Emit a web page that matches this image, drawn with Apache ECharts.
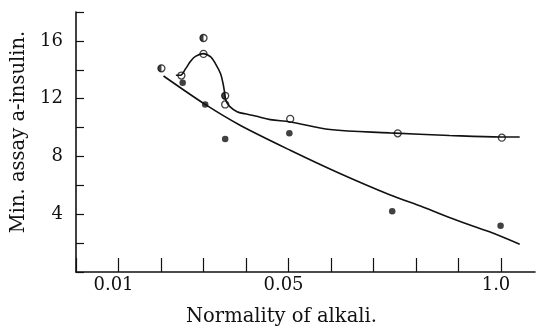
<!DOCTYPE html>
<html>
<head>
<meta charset="utf-8">
<script src="https://cdn.jsdelivr.net/npm/echarts@6/dist/echarts.min.js"></script>
<style>
    html, body { margin: 0; padding: 0; background: #fff; }
    #chart { width: 539px; height: 328px; }
</style>
</head>
<body>
<div id="chart"></div>
<script>
// x is in tick steps of the printed axis (tick 0 = 0.01, tick 4 = 0.05, tick 9 = 1.0)
var tickPos = [0, 4, 9];
var tickLabels = ['0.01', '0.05', '1.0'];
var yLabelValues = [4, 8, 12, 16];

// measured points
var openPts = [[1.48, 13.6], [2.0, 15.1], [2.51, 11.6], [4.04, 10.6], [6.57, 9.6], [9.02, 9.3]];
var filledPts = [[1.51, 13.1], [2.04, 11.6], [2.51, 9.2], [4.02, 9.6], [6.44, 4.2], [8.99, 3.2]];
var halfPts = [[1.01, 14.1], [2.0, 16.2], [2.51, 12.2]];

// fitted curves
var upperCurve = [[1.35, 13.62], [1.46, 13.62], [1.58, 14.08], [1.70, 14.61], [1.81, 14.93], [1.99, 15.12],
    [2.17, 14.89], [2.28, 14.43], [2.40, 13.74], [2.46, 13.05], [2.50, 12.35], [2.53, 11.85],
    [2.62, 11.45], [2.79, 11.1], [2.98, 10.95], [3.22, 10.8], [3.57, 10.55], [4.04, 10.39], [4.98, 9.86],
    [6.38, 9.63], [7.79, 9.45], [9.01, 9.35], [9.44, 9.35]];
var lowerCurve = [[1.06, 13.57], [2.04, 11.6], [2.86, 10.16], [4.04, 8.43], [5.21, 6.82], [6.38, 5.35],
    [7.16, 4.5], [7.96, 3.58], [8.73, 2.78], [9.44, 1.92]];

var chart = echarts.init(document.getElementById('chart'));
var ink = '#111';
var font = '"DejaVu Serif", "Liberation Serif", serif';
var ticks = [];
for (var i = -1; i <= 9; i++) ticks.push(i);

var option = {
    animation: false,
    grid: { left: 76, right: 4, top: 12, bottom: 56, outerBoundsMode: 'none' },
    xAxis: {
        type: 'value',
        min: -1,
        max: 9.8,
        name: 'Normality of alkali.',
        nameLocation: 'middle',
        nameGap: 35,
        nameTextStyle: { color: ink, fontFamily: font, fontSize: 19.5, padding: [0, 48, 0, 0] },
        axisLine: { onZero: false, lineStyle: { color: ink, width: 1.6 } },
        axisTick: { inside: true, length: 14, customValues: ticks, lineStyle: { color: ink, width: 1.2 } },
        axisLabel: {
            customValues: tickPos,
            color: ink, fontFamily: font, fontSize: 18, margin: 4,
            padding: [0, 10, 0, 0],
            formatter: function(v) {
                var k = tickPos.indexOf(v);
                return k >= 0 ? tickLabels[k] : '';
            }
        },
        splitLine: { show: false }
    },
    yAxis: {
        type: 'value',
        min: 0,
        max: 18,
        interval: 2,
        name: 'Min. assay a-insulin.',
        nameLocation: 'middle',
        nameGap: 44,
        nameTextStyle: { color: ink, fontFamily: font, fontSize: 19.5, padding: [0, 0, 0, 20] },
        axisLine: { onZero: false, lineStyle: { color: ink, width: 1.6 } },
        axisTick: { inside: true, length: 8, lineStyle: { color: ink, width: 1.2 } },
        axisLabel: {
            customValues: yLabelValues,
            color: ink, fontFamily: font, fontSize: 18, margin: 13
        },
        splitLine: { show: false }
    },
    series: [{
        type: 'line',
        data: upperCurve,
        smooth: 0.35,
        symbol: 'none',
        lineStyle: { color: ink, width: 1.6 }
    }, {
        type: 'line',
        data: lowerCurve,
        smooth: 0.3,
        symbol: 'none',
        lineStyle: { color: ink, width: 1.6 }
    }, {
        type: 'scatter',
        data: filledPts,
        symbol: 'circle',
        symbolSize: 6.5,
        itemStyle: { color: ink }
    }, {
        type: 'scatter',
        data: openPts.concat(halfPts),
        symbol: 'circle',
        symbolSize: 7,
        itemStyle: { color: '#fff', borderColor: ink, borderWidth: 1.3 }
    }, {
        // left half filled
        type: 'scatter',
        data: halfPts,
        symbol: 'path://M0,-1 A1,1 0 0,0 0,1 Z',
        symbolSize: [3.5, 7],
        symbolOffset: [-1.75, 0],
        itemStyle: { color: ink }
    }]
};
chart.setOption(option);
</script>
</body>
</html>
